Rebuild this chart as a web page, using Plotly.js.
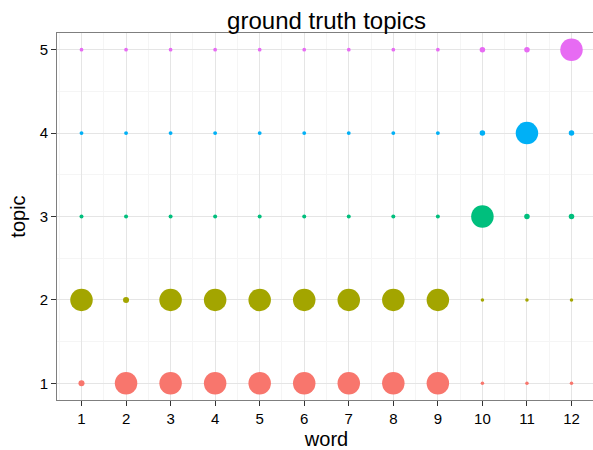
<!DOCTYPE html>
<html>
<head>
<meta charset="utf-8">
<script src="https://cdn.plot.ly/plotly-3.0.1.min.js"></script>
<style>
html, body { margin: 0; padding: 0; overflow: hidden; background: #ffffff; }
#chart { width: 596px; height: 450px; }
</style>
</head>
<body>
<div id="chart"></div>
<script>
// ---- data ----
const words = [1, 2, 3, 4, 5, 6, 7, 8, 9, 10, 11, 12];
const topicNames = [1, 2, 3, 4, 5];
const topic1 = [0.045, 0.9, 0.9, 0.9, 0.9, 0.9, 0.9, 0.9, 0.9, 0.001, 0.001, 0.001];
const topic2 = [0.9, 0.045, 0.9, 0.9, 0.9, 0.9, 0.9, 0.9, 0.9, 0.001, 0.001, 0.001];
const topic3 = [0.008, 0.008, 0.008, 0.008, 0.008, 0.008, 0.008, 0.008, 0.008, 0.9, 0.034, 0.034];
const topic4 = [0.006, 0.006, 0.006, 0.006, 0.006, 0.006, 0.006, 0.006, 0.006, 0.034, 0.9, 0.034];
const topic5 = [0.004, 0.004, 0.004, 0.004, 0.004, 0.004, 0.004, 0.004, 0.004, 0.034, 0.034, 0.9];
const xTickLabels = ["1", "2", "3", "4", "5", "6", "7", "8", "9", "10", "11", "12"];
const yTickLabels = ["1", "2", "3", "4", "5"];

// ---- styling ----
const colors = ["#F8766D", "#A3A500", "#00BF7D", "#00B0F6", "#E76BF3"];
const allSeries = [topic1, topic2, topic3, topic4, topic5];
const allVals = allSeries.flat();
const vMin = Math.min(...allVals), vMax = Math.max(...allVals);
const dMin = 3.5, dMax = 22.5;
function diam(v) {
  const r = (v - vMin) / (vMax - vMin);
  return Math.sqrt(dMin * dMin + r * (dMax * dMax - dMin * dMin));
}

const traces = allSeries.map((vals, i) => ({
  type: "scatter",
  mode: "markers",
  x: words,
  y: words.map(() => topicNames[i]),
  marker: {
    size: vals.map(diam),
    sizemode: "diameter",
    color: colors[i],
    line: { width: 0 },
    opacity: 1
  },
  hoverinfo: "x+y",
  showlegend: false
}));

const font = "Liberation Sans, Arial, Helvetica, sans-serif";

const layout = {
  width: 596,
  height: 450,
  margin: { l: 57, r: 0, t: 33, b: 50 },
  paper_bgcolor: "#ffffff",
  plot_bgcolor: "#ffffff",
  font: { family: font, color: "#000000" },
  title: {
    text: "ground truth topics",
    font: { family: font, size: 24, color: "#000000" },
    x: 0.5,
    xref: "paper",
    y: 0.955,
    yref: "container",
    yanchor: "middle"
  },
  xaxis: {
    range: [0.45, 12.55],
    tickvals: words,
    ticktext: xTickLabels,
    ticks: "outside",
    ticklen: 5,
    tickwidth: 1,
    tickcolor: "#333333",
    tickfont: { family: font, size: 15, color: "#000000" },
    showline: true,
    linecolor: "#7f7f7f",
    linewidth: 1,
    mirror: true,
    showgrid: true,
    gridcolor: "#E5E5E5",
    gridwidth: 1,
    zeroline: false,
    minor: { tick0: 0.5, dtick: 1, showgrid: true, gridcolor: "#F5F5F5", gridwidth: 1, ticks: "" },
    title: { text: "word", font: { family: font, size: 20, color: "#000000" }, standoff: 10 },
    automargin: false,
    fixedrange: true
  },
  yaxis: {
    range: [0.8, 5.2],
    tickvals: topicNames,
    ticktext: yTickLabels,
    ticks: "outside",
    ticklen: 5,
    tickwidth: 1,
    tickcolor: "#333333",
    tickfont: { family: font, size: 15, color: "#000000" },
    showline: true,
    linecolor: "#7f7f7f",
    linewidth: 1,
    mirror: true,
    showgrid: true,
    gridcolor: "#E5E5E5",
    gridwidth: 1,
    zeroline: false,
    minor: { tick0: 0.5, dtick: 1, showgrid: true, gridcolor: "#F5F5F5", gridwidth: 1, ticks: "" },
    title: { text: "topic", font: { family: font, size: 20, color: "#000000" }, standoff: 8 },
    automargin: false,
    fixedrange: true
  }
};

Plotly.newPlot("chart", traces, layout, { displayModeBar: false, staticPlot: true });
</script>
</body>
</html>
